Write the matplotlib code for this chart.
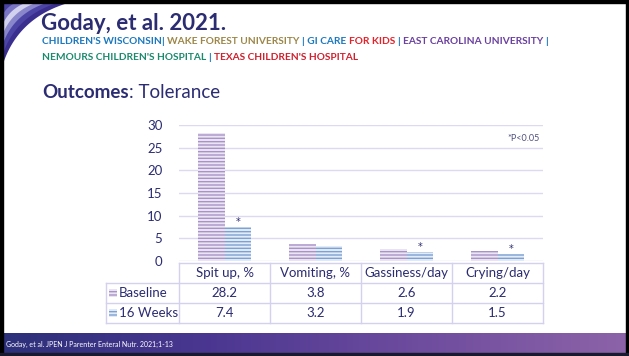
import numpy as np
import matplotlib
matplotlib.use("Agg")
import matplotlib.pyplot as plt
from matplotlib.patches import Rectangle
from matplotlib.colors import LinearSegmentedColormap
import matplotlib.transforms as mtrans

plt.rcParams['font.family'] = ['Lato', 'DejaVu Sans']
plt.rcParams['hatch.linewidth'] = 1.0

# data
categories = ['Spit up, %', 'Vomiting, %', 'Gassiness/day', 'Crying/day']
baseline = [28.2, 3.8, 2.6, 2.2]
weeks16 = [7.4, 3.2, 1.9, 1.5]
significant = [True, False, True, True]
series_names = ['Baseline', '16 Weeks']
yticks = [0, 5, 10, 15, 20, 25, 30]

navy = '#2b2c72'
grid_c = '#dcd9f0'
base_face, base_hatch = '#ebe5f3', '#a893c8'
wk_face, wk_hatch = '#e2ebf7', '#7ea1d4'

W, H = 629, 356
fig = plt.figure(figsize=(W / 100, H / 100), dpi=100)

# background / decoration axes in pixel coordinates
bg = fig.add_axes([0, 0, 1, 1], zorder=0)
bg.set_xlim(0, W)
bg.set_ylim(H, 0)
bg.axis('off')

# corner swoosh (layered curved bands)
t = np.linspace(0, 1, 60)
for k, c in enumerate(['#3a2f8e', '#4d45a6', '#8a86cc', '#d2d1ee', '#7a74c4', '#4a42a0']):
    s = 1 - k * 0.14
    p0 = np.array([68.0, 3.0]) * s
    p2 = np.array([3.0, 64.0]) * s
    p1 = np.array([18.0, 18.0]) * s
    bx = (1 - t) ** 2 * p0[0] + 2 * (1 - t) * t * p1[0] + t ** 2 * p2[0]
    by = (1 - t) ** 2 * p0[1] + 2 * (1 - t) * t * p1[1] + t ** 2 * p2[1]
    bg.fill(np.concatenate([[0], bx, [0]]), np.concatenate([[0], by, [0]]),
            color=c, lw=0, zorder=1)

# black frame
bg.add_patch(Rectangle((0, 0), W, 3, color='black', zorder=3))
bg.add_patch(Rectangle((0, 0), 3, H, color='black', zorder=3))
bg.add_patch(Rectangle((W - 3, 0), 3, H, color='black', zorder=3))
bg.add_patch(Rectangle((0, H - 3), W, 3, color='#1a1a2e', zorder=3))

# footer gradient
foot = LinearSegmentedColormap.from_list('foot', ['#2c307a', '#4b3791', '#6e4c9e', '#8c63a8'])
grad = np.linspace(0, 1, 256).reshape(1, -1)
bg.imshow(grad, cmap=foot, extent=[3, W - 3, H - 3, 333], aspect='auto', zorder=1)
bg.text(6, 344, 'Goday, et al. JPEN J Parenter Enteral Nutr. 2021;1-13', color='white',
        fontsize=5, va='center', ha='left', zorder=2)

# title
bg.text(41, 23, 'Goday, et al. 2021.', fontsize=16, fontweight='bold', color=navy,
        va='center', ha='left', zorder=4)

fig.canvas.draw()
renderer = fig.canvas.get_renderer()


def colored_line(x, y, pieces, size):
    for txt, col in pieces:
        tt = bg.text(x, y, txt, color=col, fontsize=size, fontweight='bold',
                     va='center', ha='left')
        x += tt.get_window_extent(renderer).width


blue, tan, red, purple, green, red2 = '#1b78c0', '#9c8648', '#e52129', '#6a40a0', '#1a8a6c', '#d0202e'
colored_line(42, 42, [("CHILDREN'S WISCONSIN", blue), ("| ", blue), ("WAKE FOREST UNIVERSITY ", tan),
                      ("| GI CARE ", blue), ("FOR KIDS ", red), ("| ", blue),
                      ("EAST CAROLINA UNIVERSITY ", purple), ("|", blue)], 7.3)
colored_line(42, 57, [("NEMOURS CHILDREN'S HOSPITAL ", green), ("| ", blue),
                      ("TEXAS CHILDREN'S HOSPITAL", red2)], 7.3)

tt = bg.text(42, 93, 'Outcomes', fontsize=13.5, fontweight='bold', color=navy, va='center')
bg.text(42 + tt.get_window_extent(renderer).width, 93, ': Tolerance', fontsize=13.5,
        color=navy, va='center')

# chart axes
ax = fig.add_axes([179 / W, 1 - 261 / H, 364 / W, 136 / H], zorder=2)
ax.patch.set_alpha(0)
x = np.arange(len(categories))
bw = 0.29
ax.bar(x - 0.145, baseline, bw, color=base_face, edgecolor=base_hatch, hatch='-----', lw=0, zorder=3)
ax.bar(x + 0.145, weeks16, bw, color=wk_face, edgecolor=wk_hatch, hatch='-----', lw=0, zorder=3)
for xi, v, s in zip(x, weeks16, significant):
    if s:
        ax.annotate('*', (xi + 0.145, v), xytext=(0, 0.5), textcoords='offset points',
                    ha='center', va='bottom', fontsize=7, color=navy, family='DejaVu Sans')

ax.set_xlim(-0.5, len(categories) - 0.5)
ax.set_ylim(0, 30)
ax.set_yticks(yticks)
ax.set_yticklabels([str(v) for v in yticks], fontsize=9.5, color=navy)
ax.tick_params(axis='y', length=0, pad=12)
ax.set_xticks([])
for sp in ax.spines.values():
    sp.set_visible(False)
ax.yaxis.grid(True, color=grid_c, lw=1)
ax.set_axisbelow(True)
ax.text(0.99, 0.9, '*P<0.05', transform=ax.transAxes, ha='right', va='center',
        fontsize=6.5, color='#505080')

# data table under the axes
tr = mtrans.blended_transform_factory(ax.transData, ax.transAxes)
rows_y = [-0.015, -0.162, -0.309, -0.456]
leg_x = -1.3
lk = dict(transform=tr, clip_on=False, color='#d4d1ee', lw=1)
ax.plot([-0.5, 3.5], [rows_y[0]] * 2, **lk)
for yy in rows_y[1:]:
    ax.plot([leg_x, 3.5], [yy] * 2, **lk)
ax.plot([leg_x, leg_x], [rows_y[1], rows_y[3]], **lk)
for xv in np.arange(-0.5, len(categories), 1.0):
    ax.plot([xv, xv], [rows_y[0], rows_y[3]], **lk)

tk = dict(transform=tr, clip_on=False, ha='center', va='center', fontsize=9.5, color=navy)
for i, c in enumerate(categories):
    ax.text(i, (rows_y[0] + rows_y[1]) / 2, c, **tk)
    ax.text(i, (rows_y[1] + rows_y[2]) / 2, f'{baseline[i]:.1f}', **tk)
    ax.text(i, (rows_y[2] + rows_y[3]) / 2, f'{weeks16[i]:.1f}', **tk)

for name, yy, fc, hc in [(series_names[0], (rows_y[1] + rows_y[2]) / 2, base_face, base_hatch),
                         (series_names[1], (rows_y[2] + rows_y[3]) / 2, wk_face, wk_hatch)]:
    ax.add_patch(Rectangle((leg_x + 0.03, yy - 0.027), 0.09, 0.054, transform=tr, clip_on=False,
                           facecolor=fc, edgecolor=hc, hatch='-----', lw=0))
    ax.text(leg_x + 0.14, yy, name, transform=tr, clip_on=False, ha='left', va='center',
            fontsize=9.5, color=navy)

fig.savefig('out.png', dpi=100)
